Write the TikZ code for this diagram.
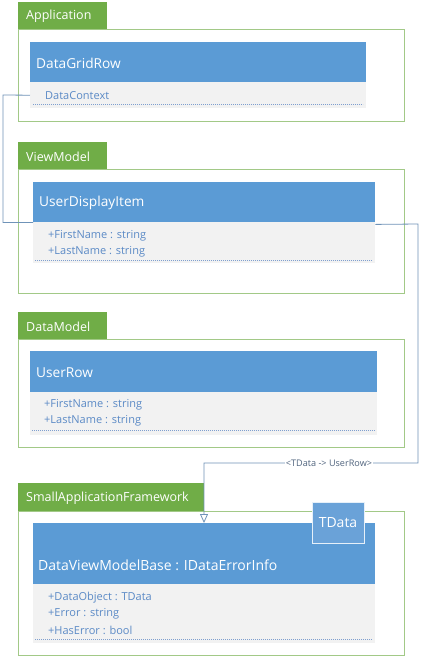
\documentclass[tikz,border=0pt]{standalone}
\usepackage{fontspec}
\setmainfont{Open Sans}
\usetikzlibrary{arrows.meta,calc}
\definecolor{tabgreen}{HTML}{70AD47}
\definecolor{pkgborder}{HTML}{A2C987}
\definecolor{hdrblue}{HTML}{5B9BD5}
\definecolor{tdblue}{HTML}{6AA2D8}
\definecolor{attrbg}{HTML}{F2F2F2}
\definecolor{attrtext}{HTML}{5B8AC6}
\definecolor{dashcol}{HTML}{7F9FCF}
\definecolor{conncol}{HTML}{6F93B8}
\definecolor{lbltext}{HTML}{50647E}
\tikzset{
  px/.style={x=1pt,y=-1pt},
  tabbox/.style={draw=none,fill=tabgreen,anchor=north west,inner sep=0pt},
  tabtext/.style={text=white,anchor=west,inner sep=0pt,font=\fontsize{12.5}{14}\selectfont},
  pkgbox/.style={draw=pkgborder,line width=0.9pt,fill=white,anchor=north west,inner sep=0pt},
  hdr/.style={fill=hdrblue,draw=none,anchor=north west,inner sep=0pt},
  hdrtext/.style={text=white,anchor=west,inner sep=0pt,font=\fontsize{13.7}{16}\selectfont},
  attrbox/.style={fill=attrbg,draw=none,anchor=north west,inner sep=0pt},
  attrtxt/.style={text=attrtext,anchor=west,inner sep=0pt,font=\fontsize{11}{13}\selectfont},
  dashln/.style={draw=dashcol,line width=0.6pt,dash pattern=on 1.2pt off 0.8pt},
  conn/.style={draw=conncol,line width=0.8pt},
  lbl/.style={text=lbltext,fill=white,inner xsep=0.5pt,inner ysep=1pt,font=\fontsize{9.1}{11}\selectfont},
}
\begin{document}
\begin{tikzpicture}[px]
\useasboundingbox (0,0) rectangle (421,657);
\fill[white] (0,0) rectangle (421,657);

% ---------- Application ----------
\node[pkgbox,minimum width=386pt,minimum height=92pt] (pApp) at (18,29) {};
\node[tabbox,minimum width=89pt,minimum height=27pt] (tApp) at (18,2) {};
\node[tabtext] (ttApp) at (26,16.5) {Application};
\node[hdr,minimum width=336pt,minimum height=40pt] (hDGR) at (30,42) {};
\node[hdrtext] (tDGR) at (36,63) {DataGridRow};
\node[attrbox,minimum width=336pt,minimum height=26pt] (aDGR) at (30,82) {};
\node[attrtxt] (aDGR1) at (45,96) {DataContext};
\draw[dashln] (33,104) -- (363,104);

% ---------- ViewModel ----------
\node[pkgbox,minimum width=386pt,minimum height=124pt] (pVM) at (18,169) {};
\node[tabbox,minimum width=89pt,minimum height=27pt] (tVM) at (18,142) {};
\node[tabtext] (ttVM) at (26,156.5) {ViewModel};
\node[hdr,minimum width=342pt,minimum height=40pt] (hUDI) at (33,182) {};
\node[hdrtext] (tUDI) at (39,203) {UserDisplayItem};
\node[attrbox,minimum width=342pt,minimum height=41pt] (aUDI) at (33,222) {};
\node[attrtxt] (aUDI1) at (48,236) {+FirstName : string};
\node[attrtxt] (aUDI2) at (48,252) {+LastName : string};
\draw[dashln] (35,260) -- (372,260);

% ---------- DataModel ----------
\node[pkgbox,minimum width=386pt,minimum height=108pt] (pDM) at (18,339) {};
\node[tabbox,minimum width=89pt,minimum height=27pt] (tDM) at (18,312) {};
\node[tabtext] (ttDM) at (26,326.5) {DataModel};
\node[hdr,minimum width=347pt,minimum height=41pt] (hUR) at (30,351) {};
\node[hdrtext] (tUR) at (36,372.5) {UserRow};
\node[attrbox,minimum width=347pt,minimum height=43pt] (aUR) at (30,392) {};
\node[attrtxt] (aUR1) at (44,405) {+FirstName : string};
\node[attrtxt] (aUR2) at (44,421) {+LastName : string};
\draw[dashln] (32,430) -- (375,430);

% ---------- SmallApplicationFramework ----------
\node[pkgbox,minimum width=386pt,minimum height=144pt] (pSAF) at (18,511) {};
\node[tabbox,minimum width=186pt,minimum height=28pt] (tSAF) at (18,483) {};
\node[tabtext] (ttSAF) at (26,498) {SmallApplicationFramework};
\node[hdr,minimum width=342pt,minimum height=61pt] (hDVMB) at (33,523) {};
\node[hdrtext,font=\fontsize{14}{16}\selectfont] (tDVMB) at (38,565) {DataViewModelBase : IDataErrorInfo};
\node[attrbox,minimum width=342pt,minimum height=59pt] (aDVMB) at (33,584) {};
\node[attrtxt] (aDVMB1) at (48,598) {+DataObject : TData};
\node[attrtxt] (aDVMB2) at (48,614) {+Error : string};
\node[attrtxt] (aDVMB3) at (48,630) {+HasError : bool};
\draw[dashln] (35,639) -- (372,639);
\node[fill=tdblue,draw=white!85!hdrblue,line width=0.8pt,anchor=north west,minimum width=52pt,minimum height=41pt,inner sep=0pt] (tpl) at (312,502) {};
\node[hdrtext,anchor=center,font=\fontsize{14}{16}\selectfont] (tplt) at (338,523) {TData};

% ---------- Connectors ----------
\coordinate (c1) at (3,95);
\draw[conn] (aDGR.west) -- (c1) |- (hUDI.south west);
\coordinate (c2) at (418,224);
\coordinate (c3) at (418,463);
\coordinate (c4) at (204,463);
\coordinate (c5) at (204,523);
\draw[conn,-{Triangle[open,fill=white,width=8pt,length=9pt]}] ($(hUDI.south east)+(0,2)$) -- (c2) -- (c3) -- (c4) -- (c5);
\node[lbl] (lblT) at (329,463) {<TData -> UserRow>};
\end{tikzpicture}
\end{document}
